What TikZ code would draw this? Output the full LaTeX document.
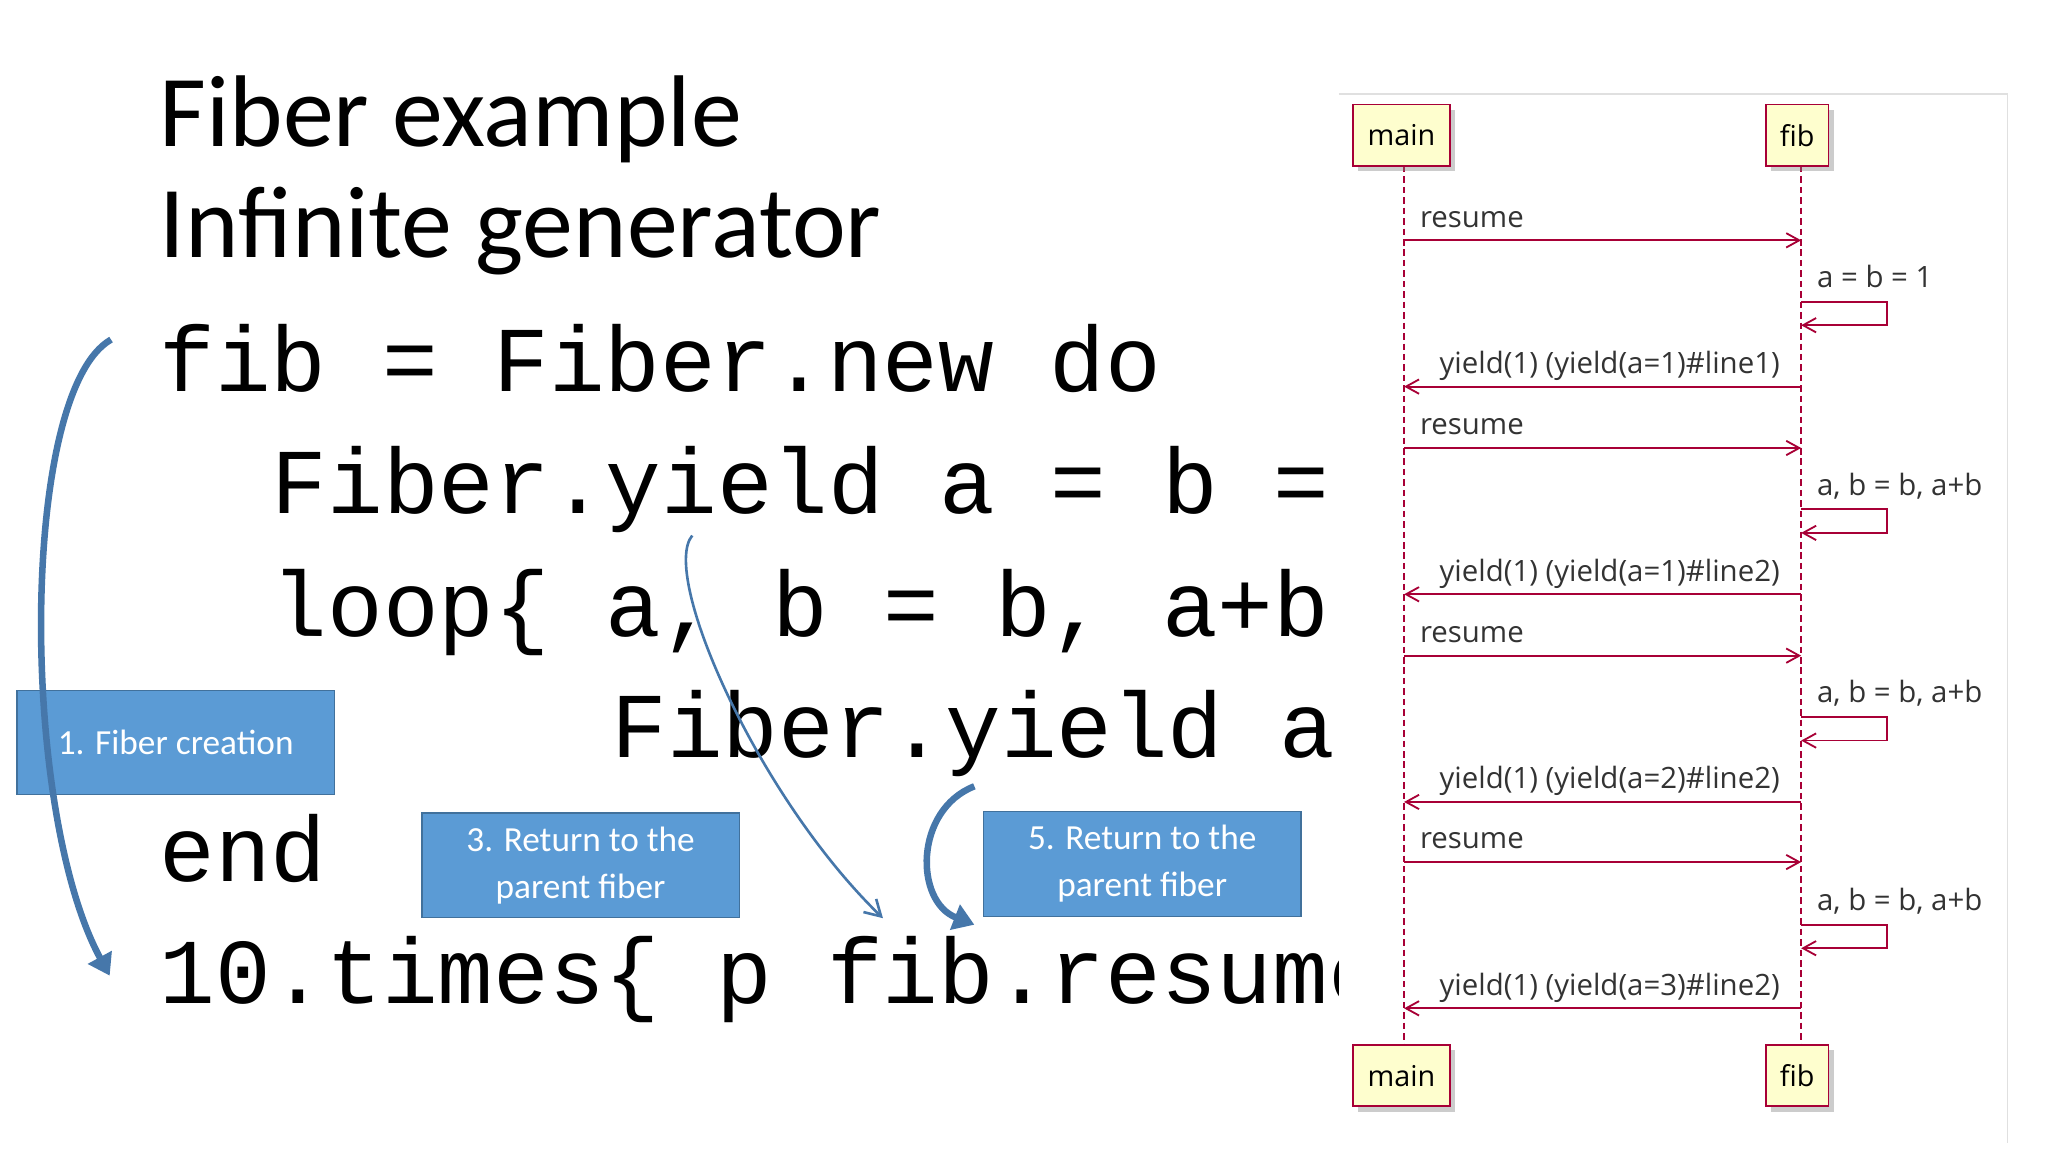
\documentclass[tikz,border=0pt]{standalone}
\usepackage{fontspec}
\setmainfont{Carlito}
\newfontfamily\codefont{Liberation Mono}
\newfontfamily\seqfont{Open Sans}
\usetikzlibrary{arrows.meta,shadows}
\definecolor{crim}{HTML}{A80036}
\definecolor{boxbg}{HTML}{FEFECE}
\definecolor{bluebox}{HTML}{5B9BD5}
\definecolor{blueedge}{HTML}{41719C}
\definecolor{arrowblue}{HTML}{4677AA}
\begin{document}
\begin{tikzpicture}[x=1pt,y=-1pt,
  title/.style={anchor=base west,inner sep=0,font=\fontsize{78}{86}\selectfont},
  code/.style={anchor=base west,inner sep=0,font=\codefont\fontsize{71}{80}\selectfont},
  note/.style={fill=bluebox,draw=blueedge,line width=1pt,text=white,align=center,font=\fontsize{27}{36}\selectfont,minimum width=243pt,minimum height=80pt,inner sep=0},
  actor/.style={fill=boxbg,draw=crim,line width=1.3pt,font=\seqfont\fontsize{22}{24}\selectfont,minimum height=47pt,inner sep=0,drop shadow={shadow xshift=4pt,shadow yshift=-4pt,opacity=0.4}},
  lbl/.style={anchor=base west,inner sep=0,font=\seqfont\fontsize{22.5}{24}\selectfont,text=black!80},
  msg/.style={draw=crim,line width=1.4pt,-{Straight Barb[length=10pt,width=11pt]}},
  life/.style={draw=crim,line width=1.2pt,dash pattern=on 5pt off 3pt},
  bigarrow/.style={draw=arrowblue,line width=5pt,-{Triangle[length=16pt,width=20pt]}}]
\useasboundingbox (0,0) rectangle (1568,882);
\fill[white] (0,0) rectangle (1568,882);
% title
\node[title] (t1) at (122,112) {Fiber example};
\node[title] (t2) at (122,197) {Infinite generator};
% code
\node[code] (c1) at (122,300) {fib = Fiber.new do};
\node[code] (c2) at (208,393) {Fiber.yield a = b = 1};
\node[code] (c3) at (208,487) {loop\{ a, b = b, a+b};
\node[code] (c4) at (468,580) {Fiber.yield a};
\node[code] (c5) at (122,675) {end};
\node[code] (c6) at (122,768) {10.times\{ p fib.resume\}};
% panel
\fill[white] (1025,72) rectangle (1568,882);
\draw[black!12,line width=1pt] (1025,72) -- (1537,72) -- (1537,875);
% sequence diagram
\draw[life] (1075,127) -- (1075,800);
\draw[life] (1379,127) -- (1379,800);
\node[actor,minimum width=74pt] (m1) at (1073,103.5) {main};
\node[actor,minimum width=48pt] (f1) at (1376,103.5) {fib};
\node[actor,minimum width=74pt] (m2) at (1073,823.5) {main};
\node[actor,minimum width=48pt] (f2) at (1376,823.5) {fib};
\foreach \y in {184,343,502,660}{
  \coordinate (ra\y) at (1075,\y); \coordinate (rb\y) at (1379,\y);
  \draw[msg] (ra\y) -- (rb\y);
  \node[lbl] at (1087,\y-10) {resume};}
\foreach \y/\t in {296/{yield(1) (yield(a=1)\#line1)},455/{yield(1) (yield(a=1)\#line2)},614/{yield(1) (yield(a=2)\#line2)},772/{yield(1) (yield(a=3)\#line2)}}{
  \coordinate (ya\y) at (1379,\y); \coordinate (yb\y) at (1075,\y);
  \draw[msg] (ya\y) -- (yb\y);
  \node[lbl] at (1102,\y-10) {\t};}
\foreach \y/\t in {231/{a = b = 1},390/{a, b = b, a+b},549/{a, b = b, a+b},708/{a, b = b, a+b}}{
  \coordinate (sa\y) at (1379,\y); \coordinate (sb\y) at (1379,\y+18);
  \draw[msg] (sa\y) -- ++(66,0) -- ++(0,18) -- (sb\y);
  \node[lbl] at (1391,\y-11) {\t};}
% notes
\node[note] (n1) at (134.5,568.5) {1. Fiber creation};
\node[note] (n3) at (444.5,662.5) {3. Return to the\\parent fiber};
\node[note] (n5) at (874.5,661.5) {5. Return to the\\parent fiber};
% curved arrows
\coordinate (a1s) at (85,260); \coordinate (a1e) at (84,747);
\draw[bigarrow] (a1s) .. controls (15,300) and (15,620) .. (a1e);
\coordinate (a3s) at (530,410); \coordinate (a3e) at (676,703);
\draw[draw=arrowblue,line width=2pt,-{Straight Barb[length=12pt,width=14pt]}] (a3s) .. controls (505,440) and (580,610) .. (a3e);
\coordinate (a5s) at (746,602); \coordinate (a5e) at (746,708);
\draw[bigarrow] (a5s) .. controls (700,620) and (700,690) .. (a5e);
\end{tikzpicture}
\end{document}
